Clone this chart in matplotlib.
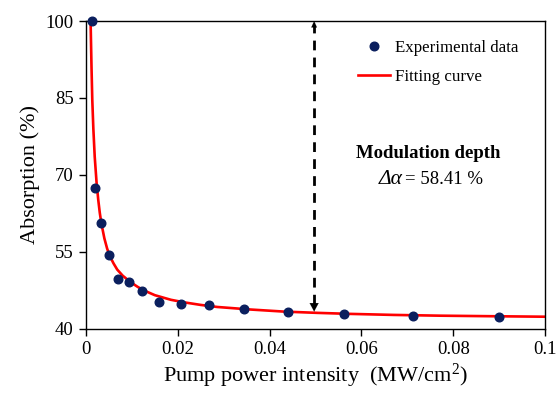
import matplotlib
matplotlib.use("Agg")
import matplotlib.pyplot as plt
from matplotlib.lines import Line2D

plt.rcParams['font.family'] = ['Liberation Serif', 'DejaVu Serif']
plt.rcParams['mathtext.fontset'] = 'custom'
plt.rcParams['mathtext.rm'] = 'Liberation Serif'
plt.rcParams['mathtext.it'] = 'Liberation Serif:italic'

# Experimental data
exp_intensity = [0.00123, 0.00203, 0.00333, 0.00507, 0.00688, 0.00928, 0.0122,
                 0.0159, 0.0207, 0.0268, 0.0345, 0.0441, 0.0562, 0.0713, 0.0900]
exp_absorption = [100.0, 67.4, 60.5, 54.3, 49.7, 49.0, 47.3,
                  45.2, 44.7, 44.5, 43.8, 43.3, 42.8, 42.5, 42.3]

# Fitting curve
fit_intensity = [0.00100, 0.00120, 0.00137, 0.00160, 0.00190, 0.00230, 0.00267,
                 0.00300, 0.00333, 0.00400, 0.00460, 0.00520, 0.00600, 0.00680,
                 0.00800, 0.00978, 0.0113, 0.0127, 0.0150, 0.0185, 0.0214, 0.0250,
                 0.0286, 0.0359, 0.0431, 0.0504, 0.0576, 0.0670, 0.0772, 0.0880, 0.1000]
fit_absorption = [100.0, 91.0, 84.6, 79.0, 73.5, 68.5, 65.1,
                  62.6, 60.6, 57.6, 55.6, 54.1, 52.7, 51.5,
                  50.3, 49.0, 48.1, 47.4, 46.5, 45.6, 45.1, 44.6,
                  44.2, 43.7, 43.3, 43.05, 42.85, 42.65, 42.5, 42.4, 42.3]

x_ticks = [0, 0.02, 0.04, 0.06, 0.08, 0.1]
x_tick_labels = ["0", "0.02", "0.04", "0.06", "0.08", "0.1"]
y_ticks = [40, 55, 70, 85, 100]

arrow_x = 0.0497
arrow_bottom = 43.3
arrow_top = 100.0

fig = plt.figure(figsize=(5.58, 3.93), dpi=100)
ax = fig.add_axes([86/558, 1-328.5/393, (545-86)/558, (328.5-21)/393])

ax.plot(fit_intensity, fit_absorption, color='#ff0000', lw=1.9, zorder=2,
        label='Fitting curve')
ax.plot(exp_intensity, exp_absorption, ls='none', marker='o', ms=6.2,
        color='#0b1f5e', zorder=3, clip_on=False, label='Experimental data')

# modulation depth arrow
ax.plot([arrow_x, arrow_x], [arrow_bottom + 1.5, arrow_top - 0.8], color='black',
        lw=2.0, ls=(0, (3.5, 2.6)), zorder=2)
ax.annotate('', xy=(arrow_x, arrow_bottom), xytext=(arrow_x, arrow_bottom + 1.8),
            arrowprops=dict(arrowstyle='-|>,head_length=0.6,head_width=0.32',
                            color='black', lw=0.1, shrinkA=0, shrinkB=0))
ax.annotate('', xy=(arrow_x, arrow_top), xytext=(arrow_x, arrow_top - 1.5),
            arrowprops=dict(arrowstyle='-|>,head_length=0.45,head_width=0.2',
                            color='black', lw=0.1, shrinkA=0, shrinkB=0))

ax.set_xlim(0, 0.1)
ax.set_ylim(40, 100)
ax.set_xticks(x_ticks)
ax.set_xticklabels(x_tick_labels)
ax.set_yticks(y_ticks)
ax.tick_params(axis='both', direction='out', length=5, width=1, labelsize=13.5,
               colors='black', pad=4)
for s in ax.spines.values():
    s.set_linewidth(1)
    s.set_color('black')

ax.set_xlabel(r'Pump power intensity  (MW/cm$^{2}$)', fontsize=16, labelpad=3)
ax.set_ylabel('Absorption (%)', fontsize=16, labelpad=4)

handles = [Line2D([], [], ls='none', marker='o', ms=6.2, color='#0b1f5e'),
           Line2D([], [], color='#ff0000', lw=1.9)]
leg = ax.legend(handles, ['Experimental data', 'Fitting curve'],
                loc='upper left', bbox_to_anchor=(358/558, 1-40/393),
                bbox_transform=fig.transFigure, frameon=False, fontsize=12.2,
                handlelength=1.9, handletextpad=0.3, labelspacing=0.75,
                borderpad=0, borderaxespad=0)

fig.text(428/558, 1-153/393, 'Modulation depth', fontsize=13.5, fontweight='bold',
         ha='center', va='center')
fig.text(403/558, 1-179/393, 'Δα', fontsize=15.5, style='italic',
         ha='right', va='center')
fig.text(405/558, 1-179/393, '= 58.41 %', fontsize=13.5, ha='left', va='center')

fig.savefig('out.png', dpi=100)
